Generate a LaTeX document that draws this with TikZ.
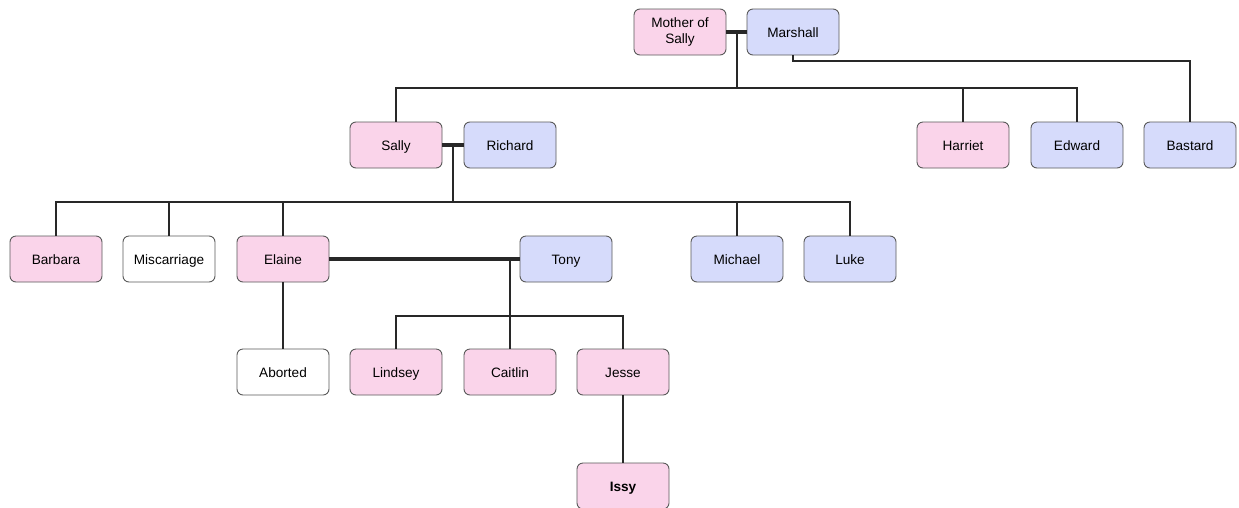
\documentclass[tikz,border=0pt]{standalone}
\usepackage{fontspec}
\setmainfont{Liberation Sans}
\definecolor{pinkf}{RGB}{250,212,234}
\definecolor{bluef}{RGB}{214,219,251}
\definecolor{bord}{RGB}{90,90,90}
\definecolor{ln}{RGB}{40,40,40}
\begin{document}
\begin{tikzpicture}[x=1pt,y=-1pt,
  person/.style={draw=bord,line width=0.9pt,rounded corners=6pt,minimum width=92pt,minimum height=46pt,inner sep=1pt,font=\fontsize{13.6}{16.5}\selectfont,align=center,text height=13pt,text depth=2pt},
  female/.style={person,fill=pinkf},
  male/.style={person,fill=bluef},
  plain/.style={person,fill=white},
  link/.style={draw=ln,line width=1.8pt},
  wed/.style={draw=ln,line width=4.5pt}]
\useasboundingbox (0,0) rectangle (1239,507);
\fill[white] (0,0) rectangle (1239,507);
% nodes
\node[female,text height=,text depth=] (mos) at (680,32) {Mother of\\Sally};
\node[male] (marshall) at (793,32) {Marshall};
\node[female] (sally) at (396,145) {Sally};
\node[male] (richard) at (510,145) {Richard};
\node[female] (harriet) at (963,145) {Harriet};
\node[male] (edward) at (1077,145) {Edward};
\node[male] (bastard) at (1190,145) {Bastard};
\node[female] (barbara) at (56,259) {Barbara};
\node[plain] (misc) at (169,259) {Miscarriage};
\node[female] (elaine) at (283,259) {Elaine};
\node[male] (tony) at (566,259) {Tony};
\node[male] (michael) at (737,259) {Michael};
\node[male] (luke) at (850,259) {Luke};
\node[plain] (aborted) at (283,372) {Aborted};
\node[female] (lindsey) at (396,372) {Lindsey};
\node[female] (caitlin) at (510,372) {Caitlin};
\node[female] (jesse) at (623,372) {Jesse};
\node[female] (issy) at (623,486) {\textbf{Issy}};
% couple 1
\coordinate (m1) at (737,32);
\coordinate (b1) at (737,88);
\draw[wed] (mos.east) -- (marshall.west);
\draw[link] (m1) -- (b1);
\draw[link] (b1) -| (sally.north);
\draw[link] (b1) -| (harriet.north);
\draw[link] (b1) -| (edward.north);
\draw[link] (marshall.south) |- (1190,61) -| (bastard.north);
% couple 2
\coordinate (m2) at (453,145);
\coordinate (b2) at (453,202);
\draw[wed] (sally.east) -- (richard.west);
\draw[link] (m2) -- (b2);
\draw[link] (b2) -| (barbara.north);
\draw[link] (b2) -| (misc.north);
\draw[link] (b2) -| (elaine.north);
\draw[link] (b2) -| (michael.north);
\draw[link] (b2) -| (luke.north);
% couple 3
\coordinate (m3) at (510,260);
\coordinate (b3) at (510,316);
\draw[wed] (elaine.east) -- (tony.west);
\draw[link] (m3) -- (b3);
\draw[link] (b3) -| (lindsey.north);
\draw[link] (b3) -| (caitlin.north);
\draw[link] (b3) -| (jesse.north);
\draw[link] (elaine.south) -- (aborted.north);
\draw[link] (jesse.south) -- (issy.north);
\end{tikzpicture}
\end{document}
